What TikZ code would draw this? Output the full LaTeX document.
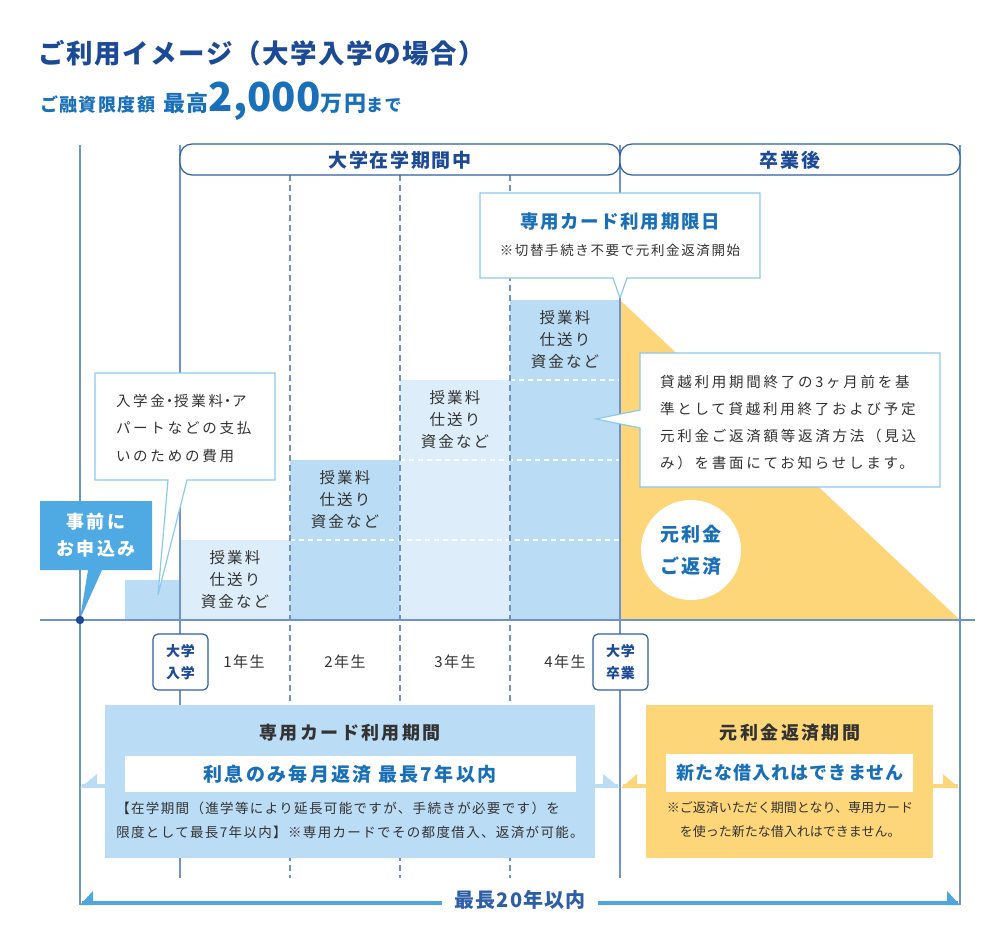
\documentclass[tikz,border=0pt]{standalone}
\usepackage{fontspec}
\setmainfont{Noto Sans CJK JP}[LetterSpace=6]
\newcommand\ls[1]{\addfontfeatures{LetterSpace=#1}}
\newcommand\nd{\makebox[9pt]{・}}
\definecolor{navy}{HTML}{1C4A97}
\definecolor{tblue}{HTML}{1A70B8}
\definecolor{axis}{HTML}{6F92CB}
\definecolor{lb}{HTML}{BADCF5}
\definecolor{llb}{HTML}{DDEEFA}
\definecolor{yel}{HTML}{FDD67A}
\definecolor{cb}{HTML}{8DC9EE}
\definecolor{mb}{HTML}{4FA9E2}
\definecolor{txt}{HTML}{333333}
\definecolor{arr}{HTML}{4EA6E0}
\definecolor{hdr}{HTML}{2E5EA8}
\begin{document}
\begin{tikzpicture}[x=1pt,y=-1pt,
  every node/.style={inner sep=0pt,outer sep=0pt},
  vline/.style={draw=axis,line width=1.5pt},
  dline/.style={draw=axis,line width=1.5pt,dash pattern=on 6pt off 4pt},
  wdash/.style={draw=white,line width=1.2pt,dash pattern=on 5pt off 4pt},
  barlbl/.style={font=\fontsize{15.5}{22}\selectfont\ls{13},text=txt,align=center},
  yearlbl/.style={font=\fontsize{15}{16}\selectfont\ls{10},text=txt},
  callbox/.style={draw=cb,line width=1.2pt,fill=white},
  hdrbox/.style={draw=hdr,line width=1.2pt,fill=white,rounded corners=12pt},
  hdrtxt/.style={font=\bfseries\fontsize{19}{20}\selectfont\ls{9},text=navy},
  tagbox/.style={draw=hdr,line width=1.2pt,fill=white,rounded corners=5pt},
  tagtxt/.style={font=\bfseries\fontsize{14}{22}\selectfont,text=navy,align=center},
  btitle/.style={font=\bfseries\fontsize{18}{20}\selectfont\ls{13},text=txt},
  bsmall/.style={font=\fontsize{13.5}{24}\selectfont,text=txt,align=left},
]
\useasboundingbox (0,0) rectangle (1000,944);
% title
\node[anchor=west,font=\bfseries\fontsize{26.5}{30}\selectfont,text=navy] (title) at (38,53) {ご利用イメージ（大学入学の場合）};
\node[anchor=base west,text=tblue,font=\bfseries] (sub) at (40,112) {{\fontsize{18}{18}\selectfont\ls{8}ご融資限度額}\hspace{8pt}{\fontsize{22}{22}\selectfont\ls{8}最高}{\fontsize{40}{40}\selectfont\ls{0}2,000}{\fontsize{22}{22}\selectfont\ls{8}万円}{\fontsize{17}{17}\selectfont\ls{8}まで}};
% bars
\fill[lb] (125,580) rectangle (180,620);
\fill[llb] (180,540) rectangle (290,620);
\fill[lb] (290,460) rectangle (400,620);
\fill[llb] (400,380) rectangle (510,620);
\fill[lb] (510,300) rectangle (620,620);
\fill[yel] (620,300) -- (960,620) -- (620,620) -- cycle;
\draw[wdash] (290,540) -- (620,540);
\draw[wdash] (400,460) -- (620,460);
\draw[wdash] (510,380) -- (620,380);
% vertical lines
\draw[vline] (80,145) -- (80,905);
\draw[vline] (180,145) -- (180,878);
\draw[dline] (290,175) -- (290,878);
\draw[dline] (400,175) -- (400,878);
\draw[dline] (510,175) -- (510,878);
\draw[vline] (620,145) -- (620,878);
\draw[vline] (960,145) -- (960,905);
\draw[vline] (40,620) -- (975,620);
% header
\draw[hdrbox] (180,144) rectangle (620,175);
\draw[hdrbox] (620,144) rectangle (960,175);
\node[hdrtxt] (h1) at (400,160) {大学在学期間中};
\node[hdrtxt] (h2) at (790,160) {卒業後};
% bar labels
\node[barlbl] (b1) at (235,580) {授業料\\仕送り\\資金など};
\node[barlbl] (b2) at (345,500) {授業料\\仕送り\\資金など};
\node[barlbl] (b3) at (455,420) {授業料\\仕送り\\資金など};
\node[barlbl] (b4) at (565,340) {授業料\\仕送り\\資金など};
% callouts
\draw[callbox] (95,373) -- (275,373) -- (275,480) -- (187,480) -- (158,595) -- (168,480) -- (95,480) -- cycle;
\node[anchor=west,align=left,font=\fontsize{14.5}{27.5}\selectfont\ls{19},text=txt] (c1) at (116,428) {入学金\nd 授業料\nd ア\\パートなどの支払\\いのための費用};
\draw[callbox] (480,193) -- (760,193) -- (760,278) -- (627,278) -- (620,298) -- (613,278) -- (480,278) -- cycle;
\node[font=\bfseries\fontsize{18.5}{20}\selectfont\ls{9},text=tblue] (c2t) at (620,222) {専用カード利用期限日};
\node[font=\fontsize{13.5}{15}\selectfont\ls{12},text=txt] (c2s) at (620,250) {※切替手続き不要で元利金返済開始};
\draw[callbox] (640,353) -- (940,353) -- (940,487) -- (640,487) -- (640,428) -- (596,419) -- (640,410) -- cycle;
\node[anchor=west,align=left,font=\fontsize{14.5}{27}\selectfont\ls{19},text=txt] (c3) at (660,423) {貸越利用期間終了の3ヶ月前を基\\準として貸越利用終了および予定\\元利金ご返済額等返済方法（見込\\み）を書面にてお知らせします。};
% apply box
\fill[mb] (40,501) -- (152,501) -- (152,570) -- (102,570) -- (80,619) -- (88,570) -- (40,570) -- cycle;
\node[align=center,font=\bfseries\fontsize{18}{27}\selectfont\ls{14},text=white] (apply) at (96,535) {事前に\\お申込み};
% circle
\node[circle,fill=white,minimum size=100pt,align=center,font=\bfseries\fontsize{19}{32}\selectfont\ls{9},text=tblue] (repay) at (691,550) {元利金\\ご返済};
% dot
\fill[navy] (80,620) circle (4.2);
% tags
\draw[tagbox] (153,634) rectangle (208,690);
\node[tagtxt] (t1) at (180.5,662) {大学\\入学};
\draw[tagbox] (593,634) rectangle (648,690);
\node[tagtxt] (t2) at (620.5,662) {大学\\卒業};
\node[yearlbl] (y1) at (244,662) {1年生};
\node[yearlbl] (y2) at (345,662) {2年生};
\node[yearlbl] (y3) at (455,662) {3年生};
\node[yearlbl] (y4) at (565,662) {4年生};
% bottom small arrows
\draw[lb,line width=3.5pt] (82,786) -- (105,786);
\fill[lb] (80,788) -- (97,774) -- (97,788) -- cycle;
\draw[lb,line width=3.5pt] (595,786) -- (618,786);
\fill[lb] (620,788) -- (603,774) -- (603,788) -- cycle;
\draw[yel,line width=3.5pt] (623,786) -- (646,786);
\fill[yel] (621,788) -- (637,774) -- (637,788) -- cycle;
\draw[yel,line width=3.5pt] (933,786) -- (958,786);
\fill[yel] (959,788) -- (943,774) -- (943,788) -- cycle;
% bottom left box
\fill[lb] (105,705) rectangle (595,858);
\node[btitle] (lt) at (350,733) {専用カード利用期間};
\fill[white] (125,756) rectangle (576,792);
\node[font=\bfseries\fontsize{19}{20}\selectfont\ls{12},text=tblue] (lm) at (350,774) {利息のみ毎月返済 最長7年以内};
\node[bsmall,font=\fontsize{13.5}{24}\selectfont\ls{10}] (ls) at (350,820) {【在学期間（進学等により延長可能ですが、手続きが必要です）を\\限度として最長7年以内】※専用カードでその都度借入、返済が可能。};
% bottom right box
\fill[yel] (646,705) rectangle (933,858);
\node[btitle] (rt) at (790,733) {元利金返済期間};
\fill[white] (666,754) rectangle (913,792);
\node[font=\bfseries\fontsize{18}{20}\selectfont\ls{6},text=tblue] (rm) at (790,773) {新たな借入れはできません};
\node[bsmall,font=\fontsize{13}{24}\selectfont\ls{0}] (rs) at (790,820) {※ご返済いただく期間となり、専用カード\\\hspace{13pt}を使った新たな借入れはできません。};
% total arrow
\node[font=\bfseries\fontsize{20}{20}\selectfont\ls{6},text=hdr,fill=white,inner xsep=12pt,inner ysep=3pt] (total) at (520,900) {最長20年以内};
\coordinate (tl) at (82,903);
\coordinate (tr) at (958,903);
\draw[arr,line width=4pt] (tl) -- (total.west |- tl);
\draw[arr,line width=4pt] (total.east |- tr) -- (tr);
\fill[arr] (80,905) -- (93,891) -- (93,905) -- cycle;
\fill[arr] (960,905) -- (947,891) -- (947,905) -- cycle;
\end{tikzpicture}
\end{document}
